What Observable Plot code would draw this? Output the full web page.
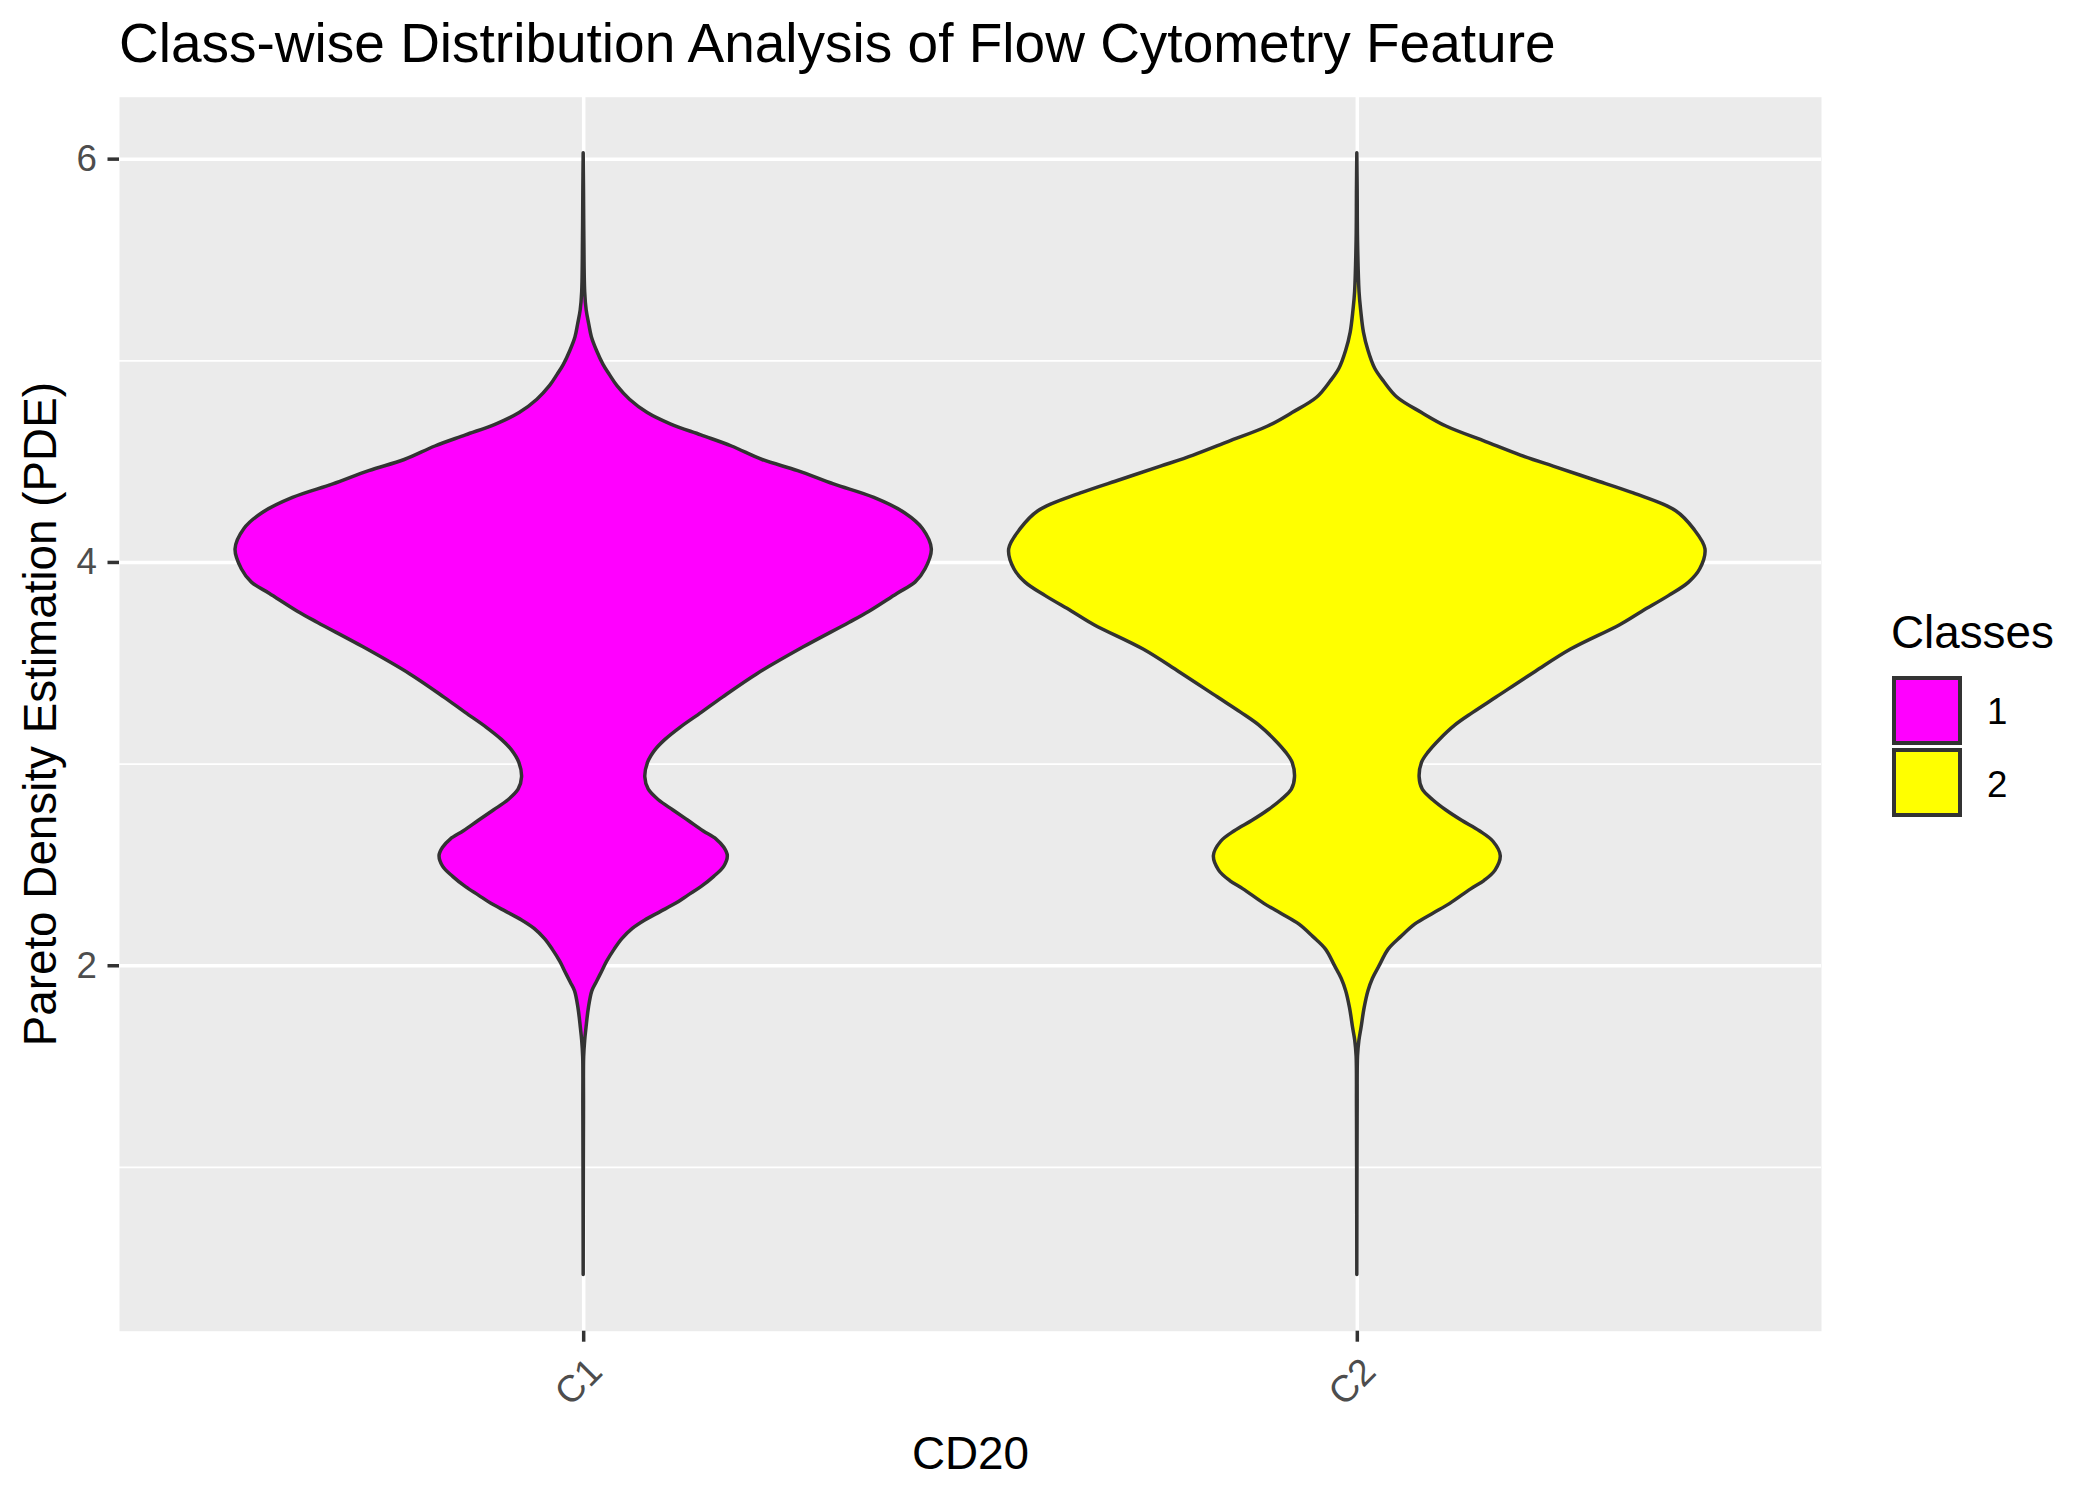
<!DOCTYPE html>
<html>
<head>
<meta charset="utf-8">
<script src="https://cdn.jsdelivr.net/npm/d3@7"></script>
<script src="https://cdn.jsdelivr.net/npm/@observablehq/plot@0.6"></script>
<style>
  body { margin: 0; background: #ffffff; }
  #chart { position: relative; width: 2100px; height: 1499px; font-family: "Liberation Sans", Arial, sans-serif; }
  #chart svg { position: absolute; left: 0; top: 0; }
  .label { position: absolute; white-space: nowrap; line-height: 1; color: #000000; }
  .swatch { position: absolute; box-sizing: border-box; border: 4px solid #333333; }
</style>
</head>
<body>
<div id="chart"></div>
<script>
// Texts
const title = "Class-wise Distribution Analysis of Flow Cytometry Feature";
const xTitle = "CD20";
const yTitle = "Pareto Density Estimation (PDE)";
const legendTitle = "Classes";

// Categories and classes
const categories = ["C1", "C2"];
const classes = ["1", "2"];
const classColors = ["#FF00FF", "#FFFF00"];

// Y axis ticks
const yTicks = [2, 4, 6];
const yMinorTicks = [1, 3, 5];

// Pareto density profiles: [feature value, density scaled to a maximum of 1]
const c1Profile = [
  [0.466, 0], [1.0, 0.0005], [1.3, 0.001], [1.545, 0.0014], [1.628, 0.0043], [1.69, 0.008],
  [1.79, 0.015], [1.874, 0.025], [1.916, 0.037], [1.967, 0.052], [2.019, 0.067], [2.08, 0.089],
  [2.132, 0.111], [2.183, 0.141], [2.225, 0.177], [2.266, 0.221], [2.307, 0.265], [2.348, 0.301],
  [2.39, 0.338], [2.441, 0.375], [2.492, 0.404], [2.544, 0.414], [2.585, 0.404], [2.626, 0.382],
  [2.667, 0.344], [2.719, 0.301], [2.77, 0.258], [2.821, 0.216], [2.873, 0.187], [2.934, 0.177],
  [3.007, 0.185], [3.068, 0.206], [3.12, 0.235], [3.181, 0.279], [3.254, 0.339], [3.33, 0.40],
  [3.446, 0.499], [3.578, 0.631], [3.70, 0.763], [3.756, 0.821], [3.844, 0.901], [3.90, 0.953],
  [3.966, 0.982], [4.065, 1.0], [4.165, 0.975], [4.243, 0.924], [4.32, 0.835], [4.387, 0.719],
  [4.453, 0.616], [4.508, 0.514], [4.575, 0.426], [4.63, 0.338], [4.685, 0.250], [4.741, 0.184],
  [4.807, 0.133], [4.874, 0.097], [4.93, 0.075], [4.98, 0.057], [5.05, 0.038], [5.117, 0.0235],
  [5.18, 0.016], [5.25, 0.0086], [5.34, 0.0043], [5.6, 0.002], [5.85, 0.001], [6.029, 0]
];
const c2Profile = [
  [0.466, 0], [1.0, 0.0005], [1.3, 0.001], [1.55, 0.002], [1.628, 0.006], [1.69, 0.012],
  [1.79, 0.021], [1.874, 0.032], [1.936, 0.045], [1.998, 0.064], [2.08, 0.090], [2.142, 0.126],
  [2.204, 0.166], [2.256, 0.216], [2.307, 0.267], [2.379, 0.327], [2.42, 0.365], [2.472, 0.397],
  [2.544, 0.412], [2.615, 0.391], [2.667, 0.352], [2.719, 0.301], [2.77, 0.256], [2.821, 0.218],
  [2.873, 0.188], [2.934, 0.179], [3.007, 0.186], [3.058, 0.205], [3.12, 0.237], [3.192, 0.282],
  [3.254, 0.333], [3.33, 0.40], [3.457, 0.512], [3.568, 0.614], [3.689, 0.755], [3.756, 0.819],
  [3.833, 0.895], [3.90, 0.953], [3.966, 0.985], [4.065, 1.0], [4.165, 0.967], [4.254, 0.916],
  [4.342, 0.794], [4.409, 0.679], [4.475, 0.564], [4.53, 0.470], [4.597, 0.370], [4.674, 0.256],
  [4.741, 0.186], [4.818, 0.115], [4.896, 0.077], [4.962, 0.051], [5.05, 0.032], [5.14, 0.019],
  [5.25, 0.011], [5.34, 0.0064], [5.6, 0.002], [5.85, 0.001], [6.029, 0]
];
const profiles = [c1Profile, c2Profile];

// Violin width (in category units) at the densest point
const violinWidth = 0.9;

const rows = [];
categories.forEach((category, i) => {
  profiles[i].forEach(([value, density]) => {
    rows.push({category, cls: classes[i], pos: i + 1, value, density});
  });
});

// Continuous axis padded by 5% of the data range on each side
const yMin = d3.min(rows, r => r.value);
const yMax = d3.max(rows, r => r.value);
const yPad = (yMax - yMin) * 0.05;

const fontFamily = '"Liberation Sans", Arial, sans-serif';
const panelTop = 96.7, panelBottom = 1330.7, panelLeft = 119, panelRight = 1821;
const positions = categories.map((c, i) => i + 1);

const svg = Plot.plot({
  width: 2100,
  height: 1499,
  marginTop: panelTop,
  marginBottom: 1499 - panelBottom,
  marginLeft: panelLeft,
  marginRight: 2100 - panelRight,
  style: {fontFamily, background: "transparent", overflow: "visible"},
  x: {domain: [0.4, categories.length + 0.6], axis: null},
  y: {domain: [yMin - yPad, yMax + yPad], axis: null},
  color: {domain: classes, range: classColors},
  marks: [
    Plot.frame({fill: "#EBEBEB", stroke: "none"}),
    Plot.gridY(yMinorTicks, {stroke: "#FFFFFF", strokeOpacity: 1, strokeWidth: 1.8}),
    Plot.gridY(yTicks, {stroke: "#FFFFFF", strokeOpacity: 1, strokeWidth: 3.5}),
    Plot.gridX(positions, {stroke: "#FFFFFF", strokeOpacity: 1, strokeWidth: 3.5}),
    Plot.areaX(rows, {
      y: "value",
      x1: r => r.pos - r.density * violinWidth / 2,
      x2: r => r.pos + r.density * violinWidth / 2,
      z: "category",
      fill: "cls",
      stroke: "#333333",
      strokeWidth: 3.5,
      strokeLinejoin: "round",
      curve: "catmull-rom"
    }),
    Plot.axisY(yTicks, {
      tickSize: 11.5, tickPadding: 11, tickFormat: d => String(d), fontSize: 36.7, fill: "#4D4D4D",
      stroke: "#333333", strokeWidth: 3.5, label: null
    }),
    Plot.axisX(positions, {
      tickSize: 11, tickFormat: () => "", stroke: "#333333", strokeWidth: 3.5, label: null
    }),
    Plot.axisX(positions, {
      tickSize: 0, tickPadding: 34, tickRotate: -45, tickFormat: i => categories[i - 1],
      textAnchor: "end", lineAnchor: "middle", dx: 12, fontSize: 37.5, fill: "#4D4D4D", label: null
    }),
    Plot.text([yTitle], {
      frameAnchor: "left", rotate: -90, textAnchor: "middle", lineAnchor: "bottom", dx: -64,
      fontSize: 45.8, fill: "#000000"
    }),
    Plot.text([xTitle], {
      frameAnchor: "bottom", textAnchor: "middle", lineAnchor: "bottom", dy: 137.3,
      fontSize: 45.8, fill: "#000000"
    })
  ]
});

const chart = document.getElementById("chart");
chart.appendChild(svg);

// Places a single line of text so that its baseline sits at the given y
function addLabel(text, left, baseline, size) {
  const el = document.createElement("div");
  el.className = "label";
  el.textContent = text;
  el.style.left = left + "px";
  el.style.top = (baseline - 0.8465 * size) + "px";
  el.style.fontSize = size + "px";
  chart.appendChild(el);
  return el;
}

addLabel(title, 119, 63, 55);

// Legend
addLabel(legendTitle, 1891, 649, 45.8);
classes.forEach((cls, i) => {
  const sw = document.createElement("div");
  sw.className = "swatch";
  sw.style.left = "1892px";
  sw.style.top = (676 + i * 72) + "px";
  sw.style.width = "70px";
  sw.style.height = "69px";
  sw.style.background = classColors[i];
  chart.appendChild(sw);
  addLabel(cls, 1987, 725 + i * 73, 36.7);
});
</script>
</body>
</html>
